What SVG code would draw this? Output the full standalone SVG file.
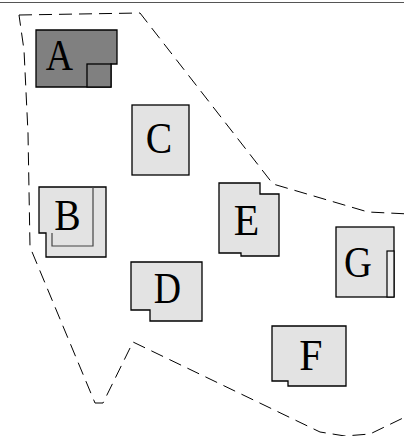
<svg xmlns="http://www.w3.org/2000/svg" width="404" height="436" viewBox="0 0 404 436">
<style>
.n{fill:#e3e3e3;stroke:#000;stroke-width:1.3}
.d{fill:#808080;stroke:#000;stroke-width:1.3}
.in{fill:none;stroke:#444;stroke-width:1.2}
.t{font-family:"Liberation Serif","Times New Roman",serif;font-size:44px;fill:#000;text-anchor:middle}
.hull{fill:none;stroke:#000;stroke-width:1;stroke-dasharray:13,7}
</style>
<rect width="404" height="436" fill="#fff"/>
<line x1="0" y1="2.5" x2="404" y2="2.5" stroke="#555" stroke-width="1.2"/>
<g id="connectors">
<path class="hull" d="M19,15 L140,13 L273,184 L368,212 L430,215 L430,405 L370,434 L345,436 L320,432 L133,342 L103,403 L95,403 L30,247 L28,133 L24,50 Z"/>
</g>
<g id="A">
<path class="d" d="M36,30 H117 V64 H111 V87 H36 Z"/>
<rect class="d" x="87" y="64" width="24" height="23"/>
<text class="t" transform="translate(59.5,70) scale(0.86,1)">A</text>
</g>
<g id="B">
<path class="n" d="M39,187 H106 V257 H46 V233 H39 Z"/>
<path class="in" d="M93,187 V246 H52 V233"/>
<text class="t" transform="translate(67.5,230) scale(0.9,1)">B</text>
</g>
<g id="C">
<rect class="n" x="132" y="105" width="57" height="70"/>
<text class="t" transform="translate(159,153) scale(0.9,1)">C</text>
</g>
<g id="D">
<path class="n" d="M131,262 H202 V321 H150 V310 H131 Z"/>
<text class="t" transform="translate(167.5,303) scale(0.86,1)">D</text>
</g>
<g id="E">
<path class="n" d="M219,183 H260 V194 H279 V256 H241 V253 H219 Z"/>
<text class="t" transform="translate(246.5,235) scale(0.95,1)">E</text>
</g>
<g id="F">
<path class="n" d="M272,326 H346 V386 H288 V381 H272 Z"/>
<text class="t" transform="translate(311,370) scale(0.95,1)">F</text>
</g>
<g id="G">
<rect class="n" x="336" y="227" width="58" height="70"/>
<rect x="387" y="251" width="7" height="46" fill="#eeeeee" stroke="#000" stroke-width="1.2"/>
<text class="t" transform="translate(358,277) scale(0.88,1)">G</text>
</g>
</svg>
